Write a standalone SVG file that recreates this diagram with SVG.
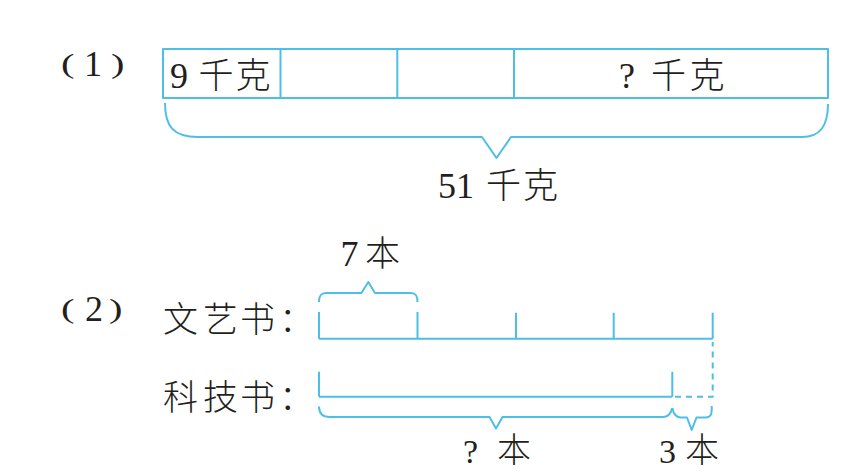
<svg xmlns="http://www.w3.org/2000/svg" width="861" height="472" viewBox="0 0 861 472">
<style>
.ln{fill:none;stroke:#4dbfe6;stroke-width:2;stroke-linejoin:round;stroke-linecap:butt}
.ds{stroke-dasharray:6 5}
.t{font-family:"Liberation Serif","Noto Sans CJK SC",serif;font-size:36px;fill:#231f20}
.c{font-family:"Noto Sans CJK SC","Liberation Serif",sans-serif;font-size:35px;font-weight:300;fill:#231f20}
.p{font-family:"Liberation Serif",serif;font-size:27px;fill:#231f20}
.b{font-size:34px}
</style>
<rect width="861" height="472" fill="#ffffff"/>
<g id="label1">
<text class="p" transform="translate(61,73) scale(1.5,1)">(</text>
<text class="t" x="84" y="76">1</text>
<text class="p" transform="translate(111,73) scale(1.5,1)">)</text>
</g>
<g id="bar1">
<rect class="ln" x="163" y="49" width="665" height="49"/>
<path class="ln" d="M280.5,49V98M397.3,49V98M514,49V98"/>
<text class="t" x="170" y="88">9</text>
<text class="c" x="198.5 235.5" y="88">千克</text>
<text class="t" x="619" y="88">?</text>
<text class="c" x="651 689.5" y="88">千克</text>
</g>
<g id="total1">
<text class="t" x="438" y="198">51</text>
<text class="c" x="486 523" y="198">千克</text>
</g>
<g id="label2">
<text class="p" transform="translate(61,318) scale(1.5,1)">(</text>
<text class="t" x="85" y="321">2</text>
<text class="p" transform="translate(109,318) scale(1.5,1)">)</text>
</g>
<g id="row-wenyi">
<text class="c" x="163 203 240 279" y="332">文艺书：</text>
</g>
<g id="row-keji">
<text class="c" x="163 203 240 279" y="410">科技书：</text>
</g>
<g id="label-7">
<text class="t" x="340.5" y="266">7</text>
<text class="c" x="365" y="266">本</text>
</g>
<g id="label-q">
<text class="t b" x="463" y="463">?</text>
<text class="c b" x="497" y="462">本</text>
</g>
<g id="label-3">
<text class="t b" x="659" y="463">3</text>
<text class="c b" x="685" y="462">本</text>
</g>
<g id="connectors">
<path class="ln" d="M165,103C165,126 173,137 198,137L482,137L496.5,158L511,137L802,137C820,137 828,126 828,104"/>
<path class="ln" d="M319,302C319,296 320.5,293 326,293L361.5,293L368.3,282L375,293L411,293C416,293 417.5,296 417.5,302"/>
<path class="ln" d="M319,338.7H712.7M319,312V338.7M417.5,312V338.7M516,312.7V338.7M613.7,312.7V338.7M712.7,312.7V338.7"/>
<path class="ln" d="M319,396.7H672.3M319,371.7V396.7M672.3,371.7V396.7"/>
<path class="ln ds" d="M675,396.7H712.7V342"/>
<path class="ln" d="M319,406.5C319,413 322,417 330,417L489.5,417L496,428.5L502.5,417L663,417C669,417 671,413 672.3,408"/>
<path class="ln" d="M672.3,408C673.5,414 676,417.5 681,417.5L687,417.5L691.7,430L696.5,417.5L706,417.5C710,417.5 711.7,415 711.7,410L711.7,406"/>
</g>
</svg>
